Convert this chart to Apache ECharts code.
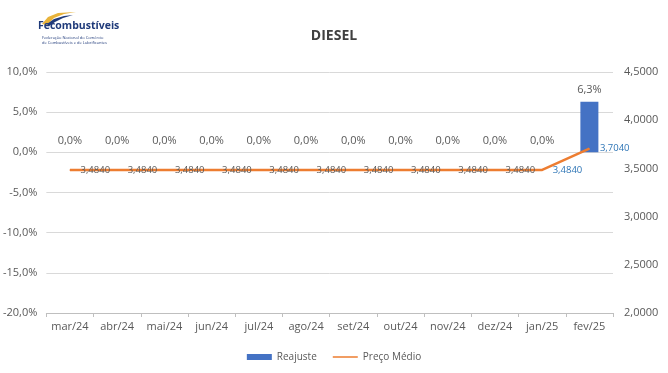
<!DOCTYPE html>
<html><head><meta charset="utf-8">
<script src="https://cdn.jsdelivr.net/npm/echarts@6/dist/echarts.min.js"></script>
<style>html,body{margin:0;padding:0;background:#fff}#c{width:668px;height:373px}</style>
</head><body><div id="c"></div>
<script>
const categories = ['mar/24','abr/24','mai/24','jun/24','jul/24','ago/24','set/24','out/24','nov/24','dez/24','jan/25','fev/25'];
const reajuste = [0,0,0,0,0,0,0,0,0,0,0,6.3];
const precoMedio = [3.484,3.484,3.484,3.484,3.484,3.484,3.484,3.484,3.484,3.484,3.484,3.704];
const leftTicks = {min:-20, max:10, interval:5};
const rightTicks = {min:2, max:4.5, interval:0.5};

const fmtPct = v => v.toFixed(1).replace('.', ',') + '%';
const fmt4 = v => v.toFixed(4).replace('.', ',');
const grey = '#595959';
const font = 'Open Sans, Lato, sans-serif';

const lineData = precoMedio.map((v, i) => {
  if (i >= categories.length - 2) return {value: v, label: {color: '#2E75B6'}};
  return v;
});

const chart = echarts.init(document.getElementById('c'));
chart.setOption({
  animation: false,
  textStyle: {fontFamily: font},
  title: {text: 'DIESEL', left: 'center', top: 24, textStyle: {fontSize: 14, fontWeight: 'bold', color: '#404040', fontFamily: font}},
  graphic: [
    {type: 'polygon', shape: {points: [[42,24],[48,17],[58,13],[76,12],[64,14],[54,18],[47,25]]}, style: {fill: '#E8B33A'}},
    {type: 'polygon', shape: {points: [[47,24],[54,19],[64,16],[73,15],[63,18],[55,22],[49,26]]}, style: {fill: '#1F3A7A'}},
    {type: 'text', left: 38, top: 21, style: {text: 'Fecombustíveis', fontSize: 10.5, fontWeight: 'bold', fill: '#1F3A7A', fontFamily: font}},
    {type: 'text', left: 42, top: 35, style: {text: 'Federação Nacional do Comércio\nde Combustíveis e de Lubrificantes', fontSize: 4, lineHeight: 5, fill: '#1F3A7A', fontFamily: font}}
  ],
  legend: {
    bottom: 6, left: 'center', itemGap: 16, itemWidth: 25, itemHeight: 6,
    textStyle: {color: grey, fontSize: 10, fontFamily: font},
    data: [
      {name: 'Reajuste', icon: 'rect'},
      {name: 'Preço Médio', icon: 'path://M0,0L0.01,0L0.01,0.01Z M0,2.2L25,2.2L25,3.8L0,3.8Z M0,6L0.01,6L0.01,5.99Z'}
    ]
  },
  grid: {left: 46, right: 55, top: 72, bottom: 60},
  xAxis: [
    {type: 'category', data: categories, position: 'bottom',
     axisLine: {show: false}, axisTick: {show: false},
     axisLabel: {color: grey, fontSize: 11, margin: 8, interval: 0}},
    {type: 'category', data: categories, position: 'bottom',
     axisLine: {show: true, onZero: true, lineStyle: {color: '#bfbfbf'}},
     axisTick: {show: true, length: 4, interval: 0, lineStyle: {color: '#bfbfbf'}},
     axisLabel: {show: false}}
  ],
  yAxis: [
    {type: 'value', min: leftTicks.min, max: leftTicks.max, interval: leftTicks.interval,
     axisLine: {show: false}, axisTick: {show: false},
     axisLabel: {color: grey, fontSize: 11, formatter: fmtPct, margin: 9},
     splitLine: {lineStyle: {color: '#d9d9d9'}}},
    {type: 'value', min: rightTicks.min, max: rightTicks.max, interval: rightTicks.interval, position: 'right',
     axisLine: {show: false}, axisTick: {show: false},
     axisLabel: {color: grey, fontSize: 11, formatter: fmt4, margin: 11},
     splitLine: {show: false}}
  ],
  series: [
    {name: 'Reajuste', type: 'bar', data: reajuste, xAxisIndex: 0, yAxisIndex: 0, barWidth: 18,
     itemStyle: {color: '#4472C4'},
     label: {show: true, position: 'top', distance: 6, color: grey, fontSize: 11, formatter: p => fmtPct(p.value)}},
    {name: 'Preço Médio', type: 'line', data: lineData, xAxisIndex: 0, yAxisIndex: 1, z: 3,
     symbol: 'circle', symbolSize: 1, showSymbol: true, showAllSymbol: true,
     lineStyle: {color: '#ED7D31', width: 2.5}, itemStyle: {color: '#ED7D31'},
     label: {show: true, position: 'right', distance: 10, color: grey, fontSize: 9.5, formatter: p => fmt4(p.value)},
     labelLayout: {hideOverlap: false}}
  ]
});
</script></body></html>
